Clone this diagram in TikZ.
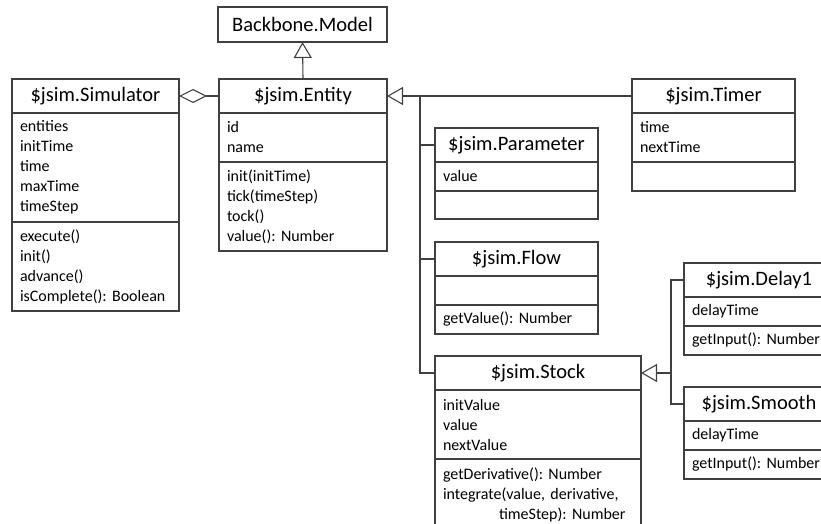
\documentclass[tikz,border=0pt]{standalone}
\usepackage{fontspec}
\setmainfont{Carlito}
\usetikzlibrary{positioning,arrows.meta}
\frenchspacing
\newcommand{\headfont}{\fontsize{20.5}{24}\selectfont}
\newcommand{\bodyfont}{\fontsize{16}{20}\selectfont}
\colorlet{umlline}{black!75}
\tikzset{
  umlhead/.style={draw=umlline, line width=1.1pt, outer sep=0pt, inner sep=0pt,
    minimum width=#1pt, minimum height=34pt, font=\headfont, anchor=north west},
  umlpart/.style={draw=umlline, line width=1.1pt, outer sep=0pt, inner xsep=8pt,
    inner ysep=0pt, text width=#1pt, align=left, font=\bodyfont},
  inherit/.style={draw=umlline, line width=1.1pt, -{Triangle[open, length=16pt, width=18pt]}},
  aggregate/.style={draw=umlline, line width=1.1pt, -{Diamond[open, length=28pt, width=14pt]}},
  bus/.style={draw=umlline, line width=1.1pt},
}
\begin{document}
\begin{tikzpicture}[x=1pt, y=-1pt]
  \useasboundingbox (0,0) rectangle (821,524);

  \node[umlhead=169, minimum height=35pt] (bb) at (218,7) {Backbone.Model};

  % simulator
  \node[umlhead=167] (sim) at (12,79) {\$jsim.Simulator};
  \node[umlpart=151, minimum height=109pt, below=0pt of sim] (sim-attr)
    {entities\\initTime\\time\\maxTime\\timeStep};
  \node[umlpart=151, minimum height=89pt, below=0pt of sim-attr] (sim-ops)
    {execute()\\init()\\advance()\\isComplete(): Boolean};

  % entity
  \node[umlhead=168] (ent) at (219,79) {\$jsim.Entity};
  \node[umlpart=152, minimum height=49pt, below=0pt of ent] (ent-attr) {id\\name};
  \node[umlpart=152, minimum height=89pt, below=0pt of ent-attr] (ent-ops)
    {init(initTime)\\tick(timeStep)\\tock()\\value(): Number};

  % timer
  \node[umlhead=163] (timer) at (632,79) {\$jsim.Timer};
  \node[umlpart=147, minimum height=49pt, below=0pt of timer] (timer-attr) {time\\nextTime};
  \node[umlpart=147, minimum height=29pt, below=0pt of timer-attr] (timer-ops) {};

  % parameter
  \node[umlhead=163] (par) at (435,128) {\$jsim.Parameter};
  \node[umlpart=147, minimum height=29pt, below=0pt of par] (par-attr) {value};
  \node[umlpart=147, minimum height=28pt, below=0pt of par-attr] (par-ops) {};

  % flow
  \node[umlhead=163] (flow) at (435,242) {\$jsim.Flow};
  \node[umlpart=147, minimum height=29pt, below=0pt of flow] (flow-attr) {};
  \node[umlpart=147, minimum height=29pt, below=0pt of flow-attr] (flow-ops) {getValue(): Number};

  % stock
  \node[umlhead=206] (stock) at (435,356) {\$jsim.Stock};
  \node[umlpart=190, minimum height=69pt, below=0pt of stock] (stock-attr)
    {initValue\\value\\nextValue};
  \node[umlpart=190, minimum height=72pt, below=0pt of stock-attr] (stock-ops)
    {getDerivative(): Number\\integrate(value, derivative,\\\hspace*{3.5em}timeStep): Number};

  % delay1, smooth
  \node[umlhead=150] (delay) at (684,263) {\$jsim.Delay1};
  \node[umlpart=134, minimum height=29pt, below=0pt of delay] (delay-attr) {delayTime};
  \node[umlpart=134, minimum height=29pt, below=0pt of delay-attr] (delay-ops) {getInput(): Number};

  \node[umlhead=150] (smooth) at (684,387) {\$jsim.Smooth};
  \node[umlpart=134, minimum height=29pt, below=0pt of smooth] (smooth-attr) {delayTime};
  \node[umlpart=134, minimum height=29pt, below=0pt of smooth-attr] (smooth-ops) {getInput(): Number};

  \draw[inherit] (ent.north) -- (bb.south);
  \draw[aggregate] (ent.west) -- (sim.east);
  \draw[inherit] (timer.west) -- (ent.east);

  \coordinate (fork) at ([xshift=33pt]ent.east);
  \draw[bus] (par.west) -| (fork) (flow.west) -| (fork) (stock.west) -| (fork);

  \coordinate (join) at ([xshift=30pt]stock.east);
  \draw[inherit] (join) -- (stock.east);
  \draw[bus] (delay.west) -| (join) (smooth.west) -| (join);
\end{tikzpicture}
\end{document}
